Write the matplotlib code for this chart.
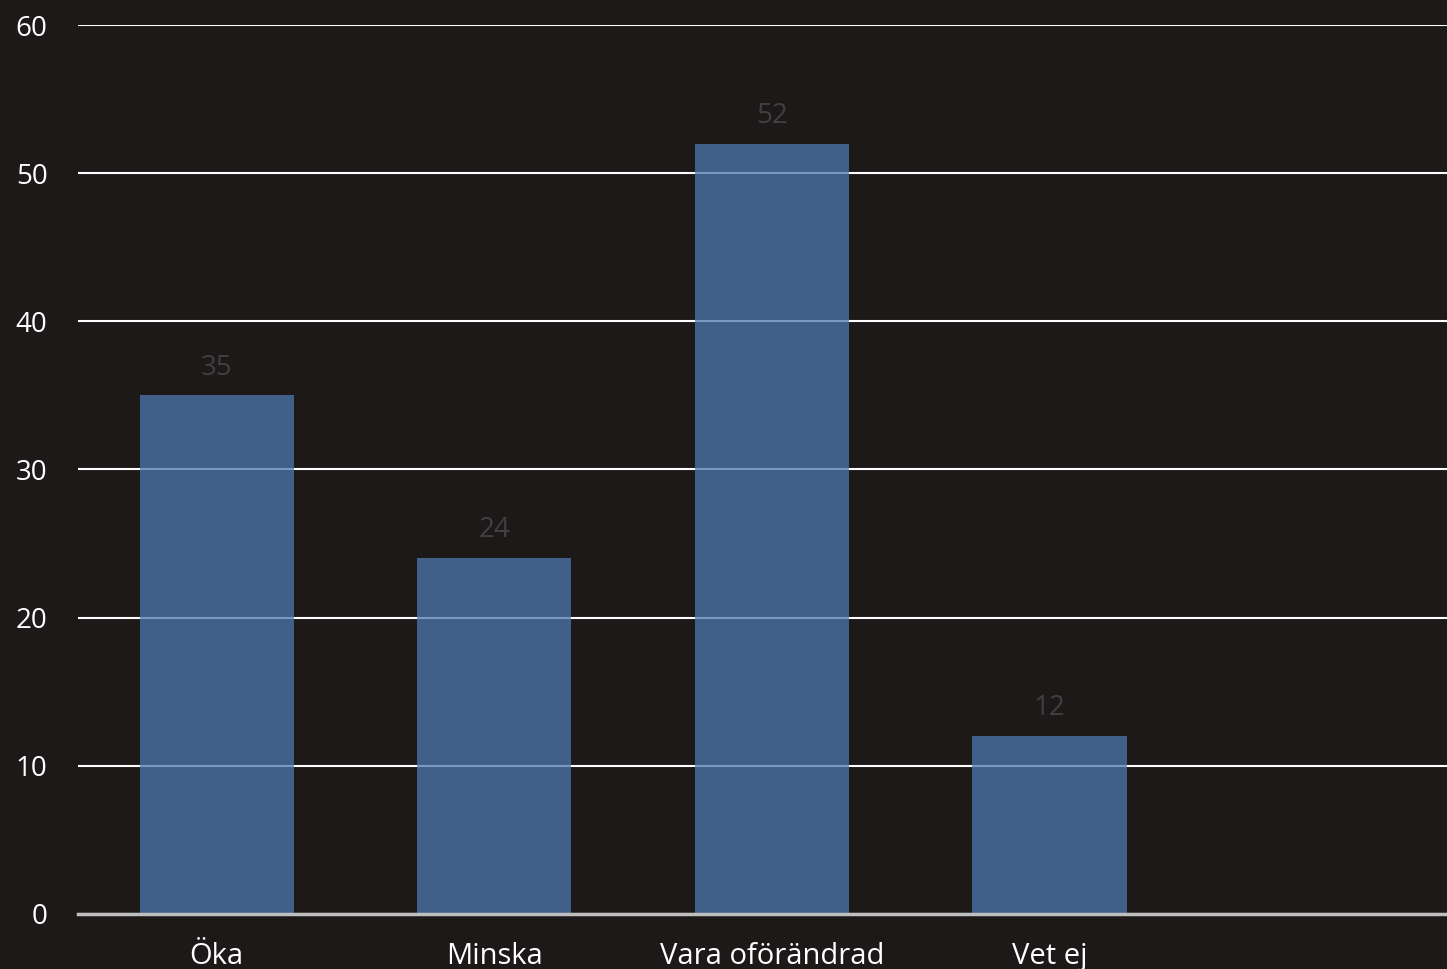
import numpy as np
import matplotlib.pyplot as plt

categories = ['Öka', 'Minska', 'Vara oförändrad', 'Vet ej']
values = [35, 24, 52, 12]
yticks = [0, 10, 20, 30, 40, 50, 60]

bg = '#1c1918'
plt.rcParams['font.family'] = ['Open Sans', 'DejaVu Sans']

fig = plt.figure(figsize=(14.47, 9.69), dpi=100, facecolor=bg)
ax = fig.add_axes([0.0539, 0.0568, 0.9461, 0.9174])
ax.set_facecolor(bg)

x = np.arange(len(categories))
bars = ax.bar(x, values, width=0.555, color='#4d79b1', alpha=0.75, zorder=3)

# value labels above the bars
for xi, v in zip(x, values):
  ax.annotate(str(v), (xi, v), xytext=(0, 10), textcoords='offset points',
              ha='center', va='bottom', color='#404040', fontsize=20)

ax.set_ylim(0, 60)
ax.set_xlim(-0.5, 4.432)
ax.set_yticks(yticks)
ax.set_xticks(x)
ax.set_xticklabels(categories)
ax.yaxis.grid(True, color='white', linewidth=1.5, zorder=1)
ax.set_axisbelow(True)

for s in ['top', 'right', 'left']:
  ax.spines[s].set_visible(False)
ax.spines['bottom'].set_color('#bfbfbf')
ax.spines['bottom'].set_linewidth(2.5)
ax.spines['bottom'].set_zorder(4)

ax.tick_params(axis='y', length=0, pad=22, labelcolor='white', labelsize=20)
ax.tick_params(axis='x', length=0, pad=20, labelcolor='white', labelsize=21)

plt.savefig('out.png', dpi=100, facecolor=bg)
